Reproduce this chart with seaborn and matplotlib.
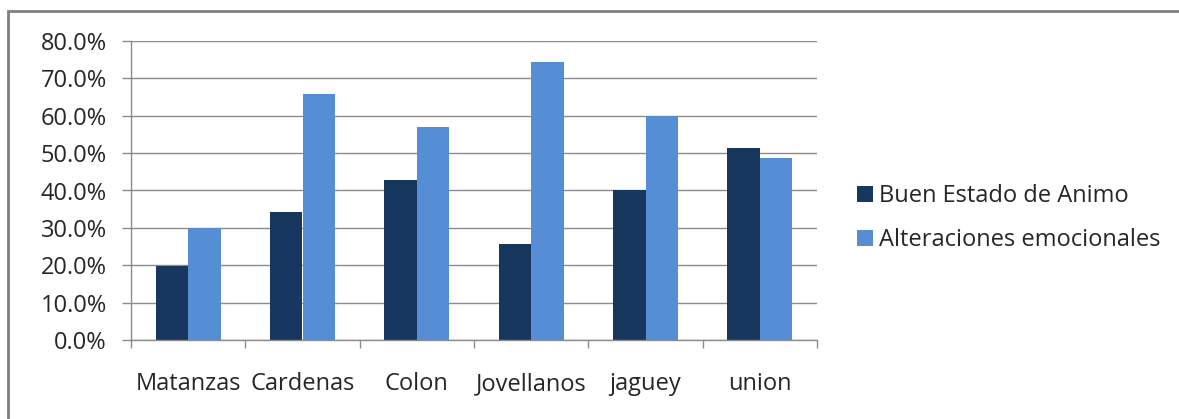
import matplotlib
matplotlib.use("Agg")
import matplotlib.pyplot as plt
import matplotlib.ticker as mticker
from matplotlib.patches import Rectangle
import seaborn as sns
import pandas as pd
import numpy as np

categories = ["Matanzas", "Cardenas", "Colon", "Jovellanos", "jaguey", "union"]
series_names = ["Buen Estado de Animo", "Alteraciones emocionales"]
buen_estado = [19.9, 34.2, 42.8, 25.6, 40.0, 51.5]
alteraciones = [29.9, 65.7, 57.0, 74.3, 60.0, 48.8]
colors = ["#17375E", "#558ED5"]

df = pd.DataFrame({
    "cat": categories * 2,
    "serie": [series_names[0]] * len(categories) + [series_names[1]] * len(categories),
    "val": buen_estado + alteraciones,
})

sns.set_theme(style="white")
plt.rcParams["font.family"] = ["Open Sans", "DejaVu Sans"]

W, H = 1179, 419
FS = 17
fig = plt.figure(figsize=(W / 100, H / 100), dpi=100)
ax = fig.add_axes([131 / W, (H - 340) / H, (817 - 131) / W, (340 - 41) / H])

sns.barplot(data=df, x="cat", y="val", hue="serie", palette=colors, width=0.57,
            gap=0, saturation=1, ax=ax, legend=True, edgecolor="none", linewidth=0)

ax.set_ylim(0, 80)
ax.set_xlim(-0.5, len(categories) - 0.5)
ax.set_yticks(np.arange(0, 81, 10))
ax.yaxis.set_major_formatter(mticker.FuncFormatter(lambda v, p: f"{v:.1f}%"))
ax.grid(axis="y", color="#8c8c8c", linewidth=1.0)
ax.set_axisbelow(True)
ax.set_xlabel("")
ax.set_ylabel("")

for s in ["top", "right"]:
    ax.spines[s].set_visible(False)
for s in ["left", "bottom"]:
    ax.spines[s].set_color("#8c8c8c")
    ax.spines[s].set_linewidth(1.0)

ax.tick_params(axis="y", which="major", left=True, length=6.5, width=1, color="#8c8c8c",
               pad=11, labelsize=FS, labelcolor="#262626")
ax.set_xticks(np.arange(-0.5, len(categories), 1.0), minor=True)
ax.tick_params(axis="x", which="minor", bottom=True, length=6, width=1, color="#8c8c8c")
ax.tick_params(axis="x", which="major", bottom=False, length=0, pad=23, labelsize=FS,
               labelcolor="#262626")

handles, labels = ax.get_legend_handles_labels()
ax.legend(handles, labels, loc="center left", bbox_to_anchor=(857 / W, (H - 218) / H),
          bbox_transform=fig.transFigure, frameon=False, fontsize=FS, borderpad=0,
          borderaxespad=0, handlelength=0.68, handleheight=0.68, handletextpad=0.25,
          labelspacing=0.85, labelcolor="#262626")

fig.patches.append(Rectangle((8 / W, -0.1), 1.2, (H - 11) / H + 0.1, transform=fig.transFigure,
                             fill=False, edgecolor="#7f7f7f", linewidth=2.0))

fig.savefig("out.png", dpi=100, facecolor="white")
